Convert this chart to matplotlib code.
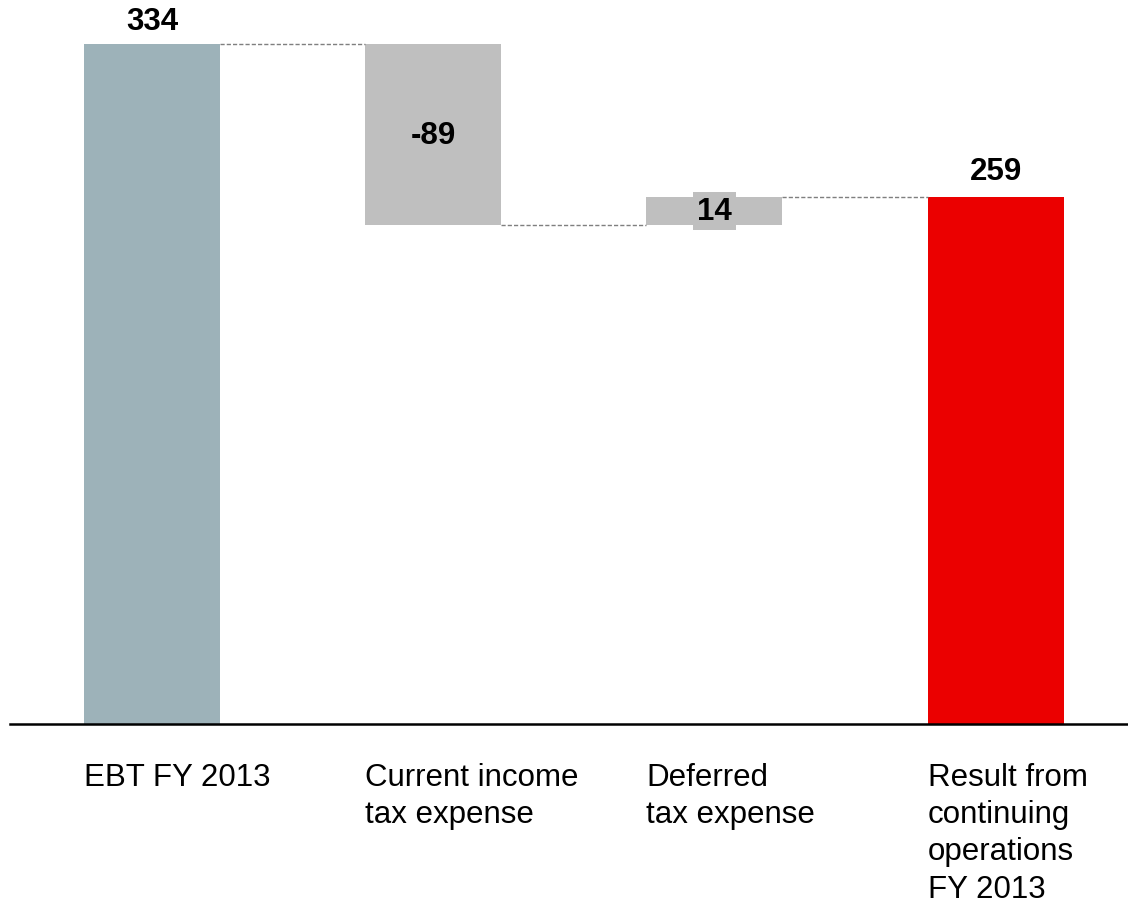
import matplotlib.pyplot as plt

plt.rcParams['font.family'] = ['Liberation Sans', 'DejaVu Sans']

categories = ['EBT FY 2013', 'Current income\ntax expense', 'Deferred\ntax expense',
              'Result from\ncontinuing\noperations\nFY 2013']
values = [334, -89, 14, 259]
colors = ['#9DB2B9', '#BFBFBF', '#BFBFBF', '#EB0000']

# waterfall: start / end level of every bar
bottoms = []
tops = []
level = 0
for i, v in enumerate(values):
    if i == 0 or i == len(values) - 1:
        bottoms.append(0)
        tops.append(v)
        level = v
    else:
        bottoms.append(min(level, level + v))
        tops.append(max(level, level + v))
        level += v

fig = plt.figure(figsize=(11.28, 9.03), dpi=100)
ax = fig.add_axes([0, 0, 1, 1])
w = 0.4835
x = list(range(len(values)))

for i in x:
    ax.bar(i, tops[i] - bottoms[i], bottom=bottoms[i], width=w, color=colors[i])

# dashed connectors between bars
running = [values[0], values[0] + values[1], values[0] + values[1] + values[2]]
for i in range(len(values) - 1):
    ax.plot([i + w / 2, i + 1 - w / 2], [running[i], running[i]],
            color='#7F7F7F', lw=1.0, ls=(0, (3, 1.5)))

ax.axhline(0, xmin=10 / 1128, xmax=1, color='black', lw=1.8)

fs = 22.5
# value labels
ax.text(0, tops[0] + 4, f'{values[0]}', ha='center', va='bottom', fontsize=fs, fontweight='bold')
ax.text(1, (tops[1] + bottoms[1]) / 2, f'{values[1]}', ha='center', va='center',
        fontsize=fs, fontweight='bold')
ax.text(2, (tops[2] + bottoms[2]) / 2, f'{values[2]}', ha='center', va='center',
        fontsize=fs, fontweight='bold',
        bbox=dict(boxstyle='square,pad=0.12', fc='#BFBFBF', ec='none'))
ax.text(3, tops[3] + 5.5, f'{values[3]}', ha='center', va='bottom', fontsize=fs, fontweight='bold')

# category labels under the axis
for i, lab in enumerate(categories):
    ax.text(i - w / 2, -18.5, lab, ha='left', va='top', fontsize=fs, linespacing=1.32)

ax.set_xlim(-0.540, 3.470)
ax.set_ylim(-87.4, 356.1)
ax.axis('off')

fig.savefig('out.png', dpi=100)
